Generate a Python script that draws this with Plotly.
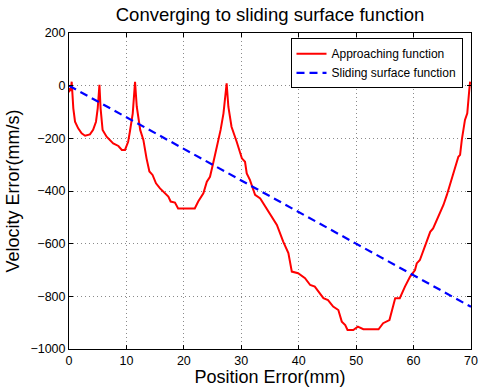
import plotly.graph_objects as go

# Approaching function
approach_x = [0.0, 0.1, 0.3, 0.47, 0.75, 1.05, 1.6, 2.2, 2.8, 3.65, 4.2, 4.7, 5.0, 5.3,
              5.5, 5.85, 6.55, 7.1, 7.7, 8.6, 9.2, 9.75, 10.3, 10.6, 11.1, 11.5,
              11.8, 12.4, 12.95, 13.5, 14.0, 14.55, 15.15, 15.85, 16.7, 17.3, 17.7, 18.45, 19.0,
              21.9, 22.5, 23.4, 24.0, 24.55, 25.1, 25.8, 26.4, 26.9, 27.45,
              27.75, 28.3, 29.2, 29.8, 30.1, 30.65, 30.95, 31.5, 32.1, 32.4, 33.3,
              34.7, 36.2, 37.3, 38.2, 38.8, 39.9, 41.1, 42.0,
              42.8, 44.3, 45.1, 46.0, 46.9, 47.5, 48.1, 48.5, 49.5, 50.3, 51.25, 53.9,
              54.7, 55.8, 56.8, 57.6, 58.5, 59.4, 60.25, 60.55, 61.1, 62.0, 62.9, 63.4,
              64.3, 65.2, 65.8, 66.6, 67.8, 68.1, 68.4, 68.95, 69.35, 69.7, 69.85]
approach_y = [-25, -10, -20, 15, -86, -137, -162, -181, -190, -185, -168, -137, -86, 3,
              -86, -168, -194, -206, -219, -229, -244, -244, -213, -175, -105, 15,
              -80, -168, -206, -276, -326, -339, -371, -390, -406, -421, -440, -444, -466,
              -466, -440, -409, -365, -346, -295, -232, -168, -105, 9,
              -80, -156, -213, -251, -276, -289, -333, -358, -396, -415, -428,
              -478, -529, -592, -636, -706, -712, -731, -757,
              -763, -807, -814, -839, -852, -896, -909, -928, -928, -915, -925, -925,
              -902, -890, -807, -807, -763, -725, -700, -675, -662, -611, -555, -542,
              -497, -453, -415, -358, -270, -263, -206, -130, -105, -16, 15]

# Sliding surface function
sliding_x = [0, 70]
sliding_y = [0, -840]

x_ticks = [0, 10, 20, 30, 40, 50, 60, 70]
y_ticks = [-1000, -800, -600, -400, -200, 0, 200]

FONT = "Liberation Sans, Arial, Helvetica, sans-serif"

fig = go.Figure()
fig.add_trace(go.Scatter(x=approach_x, y=approach_y, mode="lines",
                         name="Approaching function",
                         line=dict(color="#ff0000", width=2)))
fig.add_trace(go.Scatter(x=sliding_x, y=sliding_y, mode="lines",
                         name="Sliding surface function",
                         line=dict(color="#0000ff", width=2.2, dash="8px,5px")))

axis_common = dict(showline=True, linecolor="black", linewidth=1, mirror="ticks",
                   ticks="inside", ticklen=4, tickcolor="black", automargin=False,
                   showgrid=True, gridcolor="#8a8a8a", griddash="1px,3px", gridwidth=1,
                   zeroline=False, tickfont=dict(family=FONT, size=12.5, color="black"))

fig.update_xaxes(range=[0, 70], tickvals=x_ticks,
                 title=dict(text="Position Error(mm)", font=dict(family=FONT, size=18, color="black"), standoff=0),
                 **axis_common)
fig.update_yaxes(range=[-1000, 200], tickvals=y_ticks,
                 title=dict(text="Velocity Error(mm/s)", font=dict(family=FONT, size=18, color="black"), standoff=6),
                 **axis_common)

fig.update_layout(
    width=482, height=387,
    margin=dict(l=69, r=11, t=33, b=38),
    paper_bgcolor="white", plot_bgcolor="white",
    title=dict(text="Converging to sliding surface function",
               font=dict(family=FONT, size=18.5, color="black"),
               x=270 / 482, xanchor="center", y=1 - 15 / 387, yanchor="middle"),
    legend=dict(x=(462.5 - 69) / 402, y=(349 - 38.3) / 316, xanchor="right", yanchor="top",
                bgcolor="white", bordercolor="black", borderwidth=1,
                font=dict(family=FONT, size=12, color="black"),
                tracegroupgap=0, itemwidth=30),
    showlegend=True,
)

fig.write_html("out.html", config={"displayModeBar": False},
               post_script="document.body.style.margin='0';")
